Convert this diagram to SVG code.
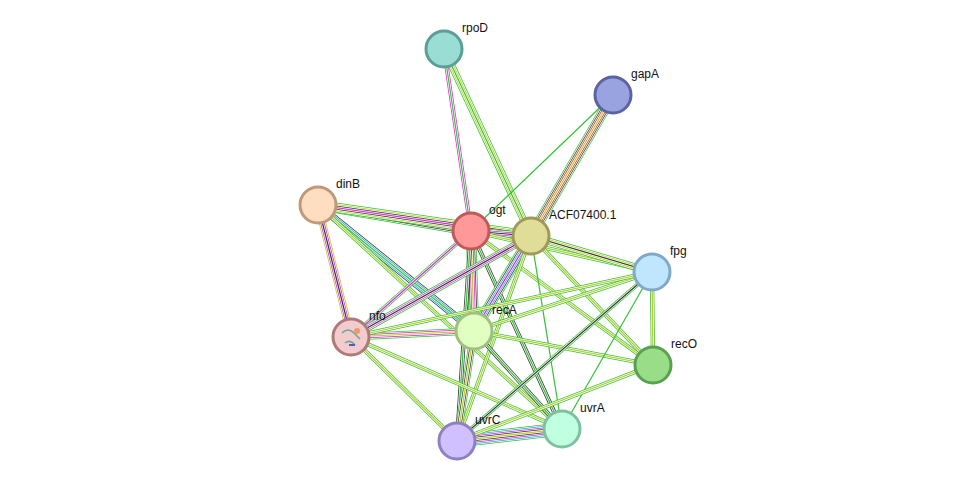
<svg xmlns="http://www.w3.org/2000/svg" xmlns:xlink="http://www.w3.org/1999/xlink" width="975" height="487" viewBox="0 0 975 487">
<style>
.G{stroke:#33c233}.K{stroke:#333}.M{stroke:#dd22dd}.B{stroke:#22aadd}.R{stroke:#dd2222}.Y{stroke:#bbcc22}.W{stroke:#fff}
.w1{stroke-width:1.2}.w2{stroke-width:2.7}.w3{stroke-width:4.2}.w4{stroke-width:5.7}.w5{stroke-width:7.2}.w6{stroke-width:8.7}.w7{stroke-width:10.2}.w8{stroke-width:11.7}.w9{stroke-width:13.2}
circle{stroke-width:3}
text{font-family:"Liberation Sans",Arial,sans-serif;font-size:12px;fill:#111}
</style>
<defs>
<line id="a1" x1="444" y1="49" x2="471" y2="231"/>
<line id="a2" x1="444" y1="49" x2="531" y2="236"/>
<line id="a3" x1="613" y1="95" x2="531" y2="236"/>
<line id="a4" x1="613" y1="95" x2="471" y2="231"/>
<line id="b1" x1="318" y1="205" x2="471" y2="231"/>
<line id="b2" x1="318" y1="205" x2="531" y2="236"/>
<line id="b3" x1="318" y1="205" x2="351" y2="337"/>
<line id="b4" x1="318" y1="205" x2="474" y2="331"/>
<line id="b5" x1="318" y1="205" x2="562" y2="429"/>
<line id="c1" x1="471" y1="231" x2="531" y2="236"/>
<line id="c2" x1="471" y1="231" x2="474" y2="331"/>
<line id="c3" x1="471" y1="231" x2="351" y2="337"/>
<line id="c4" x1="471" y1="231" x2="457" y2="441"/>
<line id="c5" x1="471" y1="231" x2="562" y2="429"/>
<line id="c6" x1="471" y1="231" x2="652" y2="272"/>
<line id="c7" x1="471" y1="231" x2="653" y2="365"/>
<line id="d1" x1="531" y1="236" x2="474" y2="331"/>
<line id="d2" x1="531" y1="236" x2="351" y2="337"/>
<line id="d3" x1="531" y1="236" x2="652" y2="272"/>
<line id="d4" x1="531" y1="236" x2="653" y2="365"/>
<line id="d5" x1="531" y1="236" x2="562" y2="429"/>
<line id="d6" x1="531" y1="236" x2="457" y2="441"/>
<line id="e1" x1="474" y1="331" x2="652" y2="272"/>
<line id="e2" x1="474" y1="331" x2="653" y2="365"/>
<line id="e3" x1="474" y1="331" x2="457" y2="441"/>
<line id="e4" x1="474" y1="331" x2="562" y2="429"/>
<line id="e5" x1="474" y1="331" x2="351" y2="337"/>
<line id="f1" x1="351" y1="337" x2="652" y2="272"/>
<line id="f2" x1="351" y1="337" x2="457" y2="441"/>
<line id="f3" x1="351" y1="337" x2="562" y2="429"/>
<line id="g1" x1="652" y1="272" x2="457" y2="441"/>
<line id="g2" x1="652" y1="272" x2="562" y2="429"/>
<line id="g3" x1="652" y1="272" x2="653" y2="365"/>
<line id="h1" x1="457" y1="441" x2="562" y2="429"/>
<line id="h2" x1="457" y1="441" x2="653" y2="365"/>
</defs>
<g id="edges" fill="none">
<use href="#a1" class="M w3"/><use href="#a1" class="W w2"/><use href="#a1" class="G w1"/>
<use href="#a2" class="G w5"/><use href="#a2" class="W w4"/><use href="#a2" class="Y w3"/><use href="#a2" class="W w2"/><use href="#a2" class="G w1"/>
<use href="#a3" class="G w7"/><use href="#a3" class="W w6"/><use href="#a3" class="K w5"/><use href="#a3" class="W w4"/><use href="#a3" class="R w3"/><use href="#a3" class="W w2"/><use href="#a3" class="Y w1"/>
<use href="#a4" class="G w1"/>
<use href="#b1" class="G w7"/><use href="#b1" class="W w6"/><use href="#b1" class="K w5"/><use href="#b1" class="W w4"/><use href="#b1" class="M w3"/><use href="#b1" class="W w2"/><use href="#b1" class="Y w1"/>
<use href="#b2" class="G w7"/><use href="#b2" class="W w6"/><use href="#b2" class="Y w5"/><use href="#b2" class="W w4"/><use href="#b2" class="K w3"/><use href="#b2" class="W w2"/><use href="#b2" class="M w1"/>
<use href="#b3" class="Y w5"/><use href="#b3" class="W w4"/><use href="#b3" class="M w3"/><use href="#b3" class="W w2"/><use href="#b3" class="K w1"/>
<use href="#b4" class="K w5"/><use href="#b4" class="W w4"/><use href="#b4" class="B w3"/><use href="#b4" class="W w2"/><use href="#b4" class="G w1"/>
<use href="#b5" class="G w3"/><use href="#b5" class="W w2"/><use href="#b5" class="Y w1"/>
<use href="#c1" class="G w5"/><use href="#c1" class="W w4"/><use href="#c1" class="M w3"/><use href="#c1" class="W w2"/><use href="#c1" class="K w1"/>
<use href="#c2" class="G w7"/><use href="#c2" class="W w6"/><use href="#c2" class="K w5"/><use href="#c2" class="W w4"/><use href="#c2" class="M w3"/><use href="#c2" class="W w2"/><use href="#c2" class="Y w1"/>
<use href="#c3" class="G w3"/><use href="#c3" class="W w2"/><use href="#c3" class="M w1"/>
<use href="#c4" class="K w3"/><use href="#c4" class="W w2"/><use href="#c4" class="G w1"/>
<use href="#c5" class="K w3"/><use href="#c5" class="W w2"/><use href="#c5" class="G w1"/>
<use href="#c6" class="G w3"/><use href="#c6" class="W w2"/><use href="#c6" class="Y w1"/>
<use href="#c7" class="G w3"/><use href="#c7" class="W w2"/><use href="#c7" class="Y w1"/>
<use href="#d1" class="G w7"/><use href="#d1" class="W w6"/><use href="#d1" class="K w5"/><use href="#d1" class="W w4"/><use href="#d1" class="B w3"/><use href="#d1" class="W w2"/><use href="#d1" class="M w1"/>
<use href="#d2" class="G w5"/><use href="#d2" class="W w4"/><use href="#d2" class="M w3"/><use href="#d2" class="W w2"/><use href="#d2" class="K w1"/>
<use href="#d3" class="G w5"/><use href="#d3" class="W w4"/><use href="#d3" class="Y w3"/><use href="#d3" class="W w2"/><use href="#d3" class="K w1"/>
<use href="#d4" class="G w3"/><use href="#d4" class="W w2"/><use href="#d4" class="Y w1"/>
<use href="#d5" class="G w1"/>
<use href="#d6" class="G w3"/><use href="#d6" class="W w2"/><use href="#d6" class="Y w1"/>
<use href="#e1" class="G w3"/><use href="#e1" class="W w2"/><use href="#e1" class="Y w1"/>
<use href="#e2" class="G w3"/><use href="#e2" class="W w2"/><use href="#e2" class="Y w1"/>
<use href="#e3" class="G w5"/><use href="#e3" class="W w4"/><use href="#e3" class="K w3"/><use href="#e3" class="W w2"/><use href="#e3" class="Y w1"/>
<use href="#e4" class="K w3"/><use href="#e4" class="W w2"/><use href="#e4" class="G w1"/>
<use href="#e5" class="G w5"/><use href="#e5" class="W w4"/><use href="#e5" class="M w3"/><use href="#e5" class="W w2"/><use href="#e5" class="Y w1"/>
<use href="#f1" class="G w3"/><use href="#f1" class="W w2"/><use href="#f1" class="Y w1"/>
<use href="#f2" class="G w3"/><use href="#f2" class="W w2"/><use href="#f2" class="Y w1"/>
<use href="#f3" class="G w3"/><use href="#f3" class="W w2"/><use href="#f3" class="Y w1"/>
<use href="#g1" class="G w3"/><use href="#g1" class="W w2"/><use href="#g1" class="K w1"/>
<use href="#g2" class="G w1"/>
<use href="#g3" class="G w3"/><use href="#g3" class="W w2"/><use href="#g3" class="Y w1"/>
<use href="#h1" class="G w9"/><use href="#h1" class="W w8"/><use href="#h1" class="B w7"/><use href="#h1" class="W w6"/><use href="#h1" class="M w5"/><use href="#h1" class="W w4"/><use href="#h1" class="K w3"/><use href="#h1" class="W w2"/><use href="#h1" class="Y w1"/>
<use href="#h2" class="G w3"/><use href="#h2" class="W w2"/><use href="#h2" class="Y w1"/>
</g>
<g id="rpoD"><circle cx="444" cy="49" r="18" fill="#99ddd4" stroke="#5a9e96"/><text x="462" y="32">rpoD</text></g>
<g id="gapA"><circle cx="613" cy="95" r="18" fill="#99a3e0" stroke="#5a64a0"/><text x="631" y="78">gapA</text></g>
<g id="dinB"><circle cx="318" cy="205" r="18" fill="#ffddc0" stroke="#c09a78"/><text x="336" y="188">dinB</text></g>
<g id="ogt"><circle cx="471" cy="231" r="18" fill="#ff9999" stroke="#c05a5a"/><text x="489" y="214">ogt</text></g>
<g id="ACF07400.1"><circle cx="531" cy="236" r="18" fill="#e0dd99" stroke="#a09a5a"/><text x="549" y="219">ACF07400.1</text></g>
<g id="fpg"><circle cx="652" cy="272" r="18" fill="#c0e6ff" stroke="#80a8c8"/><text x="670" y="255">fpg</text></g>
<g id="nfo"><circle cx="351" cy="337" r="18" fill="#f2cccc" stroke="#b07878"/><path d="M342,333 q6,-6 12,0 t6,6 M345,343 q5,-4 10,2" fill="none" stroke="#6a9" stroke-width="1.5"/><circle cx="357" cy="331" r="3" fill="#e96" stroke="none"/><path d="M349,345 h6" stroke="#55c" stroke-width="2"/><text x="369" y="320">nfo</text></g>
<g id="recA"><circle cx="474" cy="331" r="18" fill="#e0ffc0" stroke="#a0c080"/><text x="492" y="314">recA</text></g>
<g id="recO"><circle cx="653" cy="365" r="18" fill="#99dd88" stroke="#5aa050"/><text x="671" y="348">recO</text></g>
<g id="uvrC"><circle cx="457" cy="441" r="18" fill="#d0c0ff" stroke="#9080c0"/><text x="475" y="424">uvrC</text></g>
<g id="uvrA"><circle cx="562" cy="429" r="18" fill="#c0ffe0" stroke="#80c0a0"/><text x="580" y="412">uvrA</text></g>
</svg>
